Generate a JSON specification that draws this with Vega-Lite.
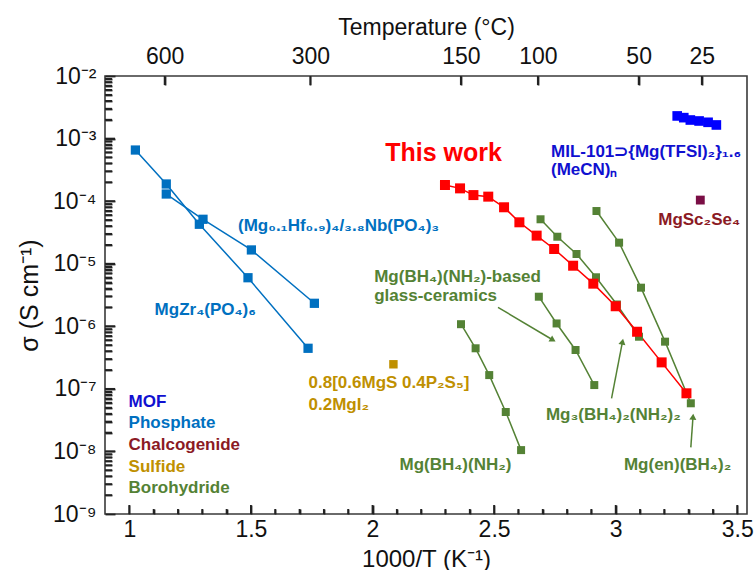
{
  "$schema": "https://vega.github.io/schema/vega-lite/v6.json",
  "width": 642,
  "height": 438,
  "autosize": "none",
  "padding": {"left": 105, "top": 76, "right": 8, "bottom": 56},
  "background": "white",
  "config": {
    "view": {"stroke": "#3a3a3a", "strokeWidth": 1.6},
    "font": "Liberation Sans",
    "axis": {"grid": false, "domain": false, "tickColor": "#222222", "tickWidth": 1.8, "labelColor": "#111", "titleColor": "#111", "labelFont": "Liberation Sans", "titleFont": "Liberation Sans", "labelFontSize": 23, "titleFontSize": 23, "titleFontWeight": "normal"}
  },
  "datasets": {
    "pts": [
      {"s": "Hf", "cls": "Phosphate", "x": 1.152, "y": 1.30e-4},
      {"s": "Hf", "cls": "Phosphate", "x": 1.303, "y": 5.13e-5},
      {"s": "Hf", "cls": "Phosphate", "x": 1.502, "y": 1.66e-5},
      {"s": "Hf", "cls": "Phosphate", "x": 1.761, "y": 2.33e-6},
      {"s": "Zr", "cls": "Phosphate", "x": 1.025, "y": 6.56e-4},
      {"s": "Zr", "cls": "Phosphate", "x": 1.152, "y": 1.88e-4},
      {"s": "Zr", "cls": "Phosphate", "x": 1.288, "y": 4.27e-5},
      {"s": "Zr", "cls": "Phosphate", "x": 1.488, "y": 5.97e-6},
      {"s": "Zr", "cls": "Phosphate", "x": 1.735, "y": 4.45e-7},
      {"s": "MOF", "cls": "MOF", "x": 3.253, "y": 2.30e-3},
      {"s": "MOF", "cls": "MOF", "x": 3.280, "y": 2.16e-3},
      {"s": "MOF", "cls": "MOF", "x": 3.307, "y": 1.98e-3},
      {"s": "MOF", "cls": "MOF", "x": 3.343, "y": 1.91e-3},
      {"s": "MOF", "cls": "MOF", "x": 3.380, "y": 1.82e-3},
      {"s": "MOF", "cls": "MOF", "x": 3.414, "y": 1.65e-3},
      {"s": "Se", "cls": "Chalcogenide", "x": 3.348, "y": 1.04e-4},
      {"s": "S", "cls": "Sulfide", "x": 2.086, "y": 2.47e-7},
      {"s": "G4", "cls": "Borohydride", "x": 2.364, "y": 1.08e-6},
      {"s": "G4", "cls": "Borohydride", "x": 2.424, "y": 4.45e-7},
      {"s": "G4", "cls": "Borohydride", "x": 2.480, "y": 1.66e-7},
      {"s": "G4", "cls": "Borohydride", "x": 2.548, "y": 4.27e-8},
      {"s": "G4", "cls": "Borohydride", "x": 2.611, "y": 1.05e-8},
      {"s": "G3", "cls": "Borohydride", "x": 2.684, "y": 2.97e-6},
      {"s": "G3", "cls": "Borohydride", "x": 2.757, "y": 1.11e-6},
      {"s": "G3", "cls": "Borohydride", "x": 2.835, "y": 4.18e-7},
      {"s": "G3", "cls": "Borohydride", "x": 2.912, "y": 1.15e-7},
      {"s": "G1", "cls": "Borohydride", "x": 2.691, "y": 5.13e-5},
      {"s": "G1", "cls": "Borohydride", "x": 2.760, "y": 2.70e-5},
      {"s": "G1", "cls": "Borohydride", "x": 2.839, "y": 1.43e-5},
      {"s": "G1", "cls": "Borohydride", "x": 2.919, "y": 6.07e-6},
      {"s": "G1", "cls": "Borohydride", "x": 3.005, "y": 2.23e-6},
      {"s": "G1", "cls": "Borohydride", "x": 3.096, "y": 6.81e-7},
      {"s": "G2", "cls": "Borohydride", "x": 2.921, "y": 6.95e-5},
      {"s": "G2", "cls": "Borohydride", "x": 3.014, "y": 2.17e-5},
      {"s": "G2", "cls": "Borohydride", "x": 3.104, "y": 4.14e-6},
      {"s": "G2", "cls": "Borohydride", "x": 3.203, "y": 5.68e-7},
      {"s": "G2", "cls": "Borohydride", "x": 3.309, "y": 5.88e-8},
      {"s": "R", "cls": "This work", "x": 2.298, "y": 1.81e-4},
      {"s": "R", "cls": "This work", "x": 2.360, "y": 1.60e-4},
      {"s": "R", "cls": "This work", "x": 2.415, "y": 1.25e-4},
      {"s": "R", "cls": "This work", "x": 2.476, "y": 1.18e-4},
      {"s": "R", "cls": "This work", "x": 2.541, "y": 7.98e-5},
      {"s": "R", "cls": "This work", "x": 2.604, "y": 4.59e-5},
      {"s": "R", "cls": "This work", "x": 2.675, "y": 2.81e-5},
      {"s": "R", "cls": "This work", "x": 2.747, "y": 1.72e-5},
      {"s": "R", "cls": "This work", "x": 2.825, "y": 9.29e-6},
      {"s": "R", "cls": "This work", "x": 2.908, "y": 4.80e-6},
      {"s": "R", "cls": "This work", "x": 3.000, "y": 2.09e-6},
      {"s": "R", "cls": "This work", "x": 3.088, "y": 8.18e-7},
      {"s": "R", "cls": "This work", "x": 3.189, "y": 2.65e-7},
      {"s": "R", "cls": "This work", "x": 3.291, "y": 8.49e-8}
    ],
    "labels": [
      {"t": "This work", "cls": "This work", "x": 2.052, "y": 4.38e-4},
      {"t": "MIL-101⊃{Mg(TFSI)₂}₁.₆", "cls": "MOF", "x": 2.734, "y": 5.07e-4},
      {"t": "(MeCN)ₙ", "cls": "MOF", "x": 2.734, "y": 2.62e-4},
      {"t": "(Mg₀.₁Hf₀.₉)₄/₃.₈Nb(PO₄)₃", "cls": "Phosphate", "x": 1.447, "y": 3.33e-5},
      {"t": "MgZr₄(PO₄)₆", "cls": "Phosphate", "x": 1.104, "y": 1.51e-6},
      {"t": "MgSc₂Se₄", "cls": "Chalcogenide", "x": 3.175, "y": 4.16e-5},
      {"t": "Mg(BH₄)(NH₂)-based", "cls": "Borohydride", "x": 2.007, "y": 5.10e-6},
      {"t": "glass-ceramics", "cls": "Borohydride", "x": 2.007, "y": 2.54e-6},
      {"t": "0.8[0.6MgS 0.4P₂S₅]", "cls": "Sulfide", "x": 1.737, "y": 1.03e-7},
      {"t": "0.2MgI₂", "cls": "Sulfide", "x": 1.737, "y": 4.59e-8},
      {"t": "Mg₃(BH₄)₂(NH₂)₂", "cls": "Borohydride", "x": 2.713, "y": 3.18e-8},
      {"t": "Mg(BH₄)(NH₂)", "cls": "Borohydride", "x": 2.111, "y": 5.05e-9},
      {"t": "Mg(en)(BH₄)₂", "cls": "Borohydride", "x": 3.034, "y": 5.05e-9},
      {"t": "MOF", "cls": "MOF", "x": 0.997, "y": 5.13e-8},
      {"t": "Phosphate", "cls": "Phosphate", "x": 0.997, "y": 2.37e-8},
      {"t": "Chalcogenide", "cls": "Chalcogenide", "x": 0.997, "y": 1.06e-8},
      {"t": "Sulfide", "cls": "Sulfide", "x": 0.997, "y": 4.74e-9},
      {"t": "Borohydride", "cls": "Borohydride", "x": 0.997, "y": 2.14e-9}
    ],
    "arrows": [
      {"a": 1, "pos": "start", "x": 2.516, "y": 2.01e-6},
      {"a": 1, "pos": "end", "x": 2.742, "y": 6.04e-7},
      {"a": 2, "pos": "start", "x": 2.983, "y": 7.06e-8},
      {"a": 2, "pos": "end", "x": 3.028, "y": 5.68e-7},
      {"a": 3, "pos": "start", "x": 3.309, "y": 1.16e-8},
      {"a": 3, "pos": "end", "x": 3.318, "y": 3.59e-8}
    ],
    "xmaj": [{"v": 1}, {"v": 1.5}, {"v": 2}, {"v": 2.5}, {"v": 3}, {"v": 3.5}],
    "xmin": [{"v": 1.1}, {"v": 1.2}, {"v": 1.3}, {"v": 1.4}, {"v": 1.6}, {"v": 1.7}, {"v": 1.8}, {"v": 1.9}, {"v": 2.1}, {"v": 2.2}, {"v": 2.3}, {"v": 2.4}, {"v": 2.6}, {"v": 2.7}, {"v": 2.8}, {"v": 2.9}, {"v": 3.1}, {"v": 3.2}, {"v": 3.3}, {"v": 3.4}],
    "xtop": [{"v": 1.145278}, {"v": 1.744744}, {"v": 2.363228}, {"v": 2.679887}, {"v": 3.094538}, {"v": 3.354016}],
    "ymaj": [{"v": 1e-8}, {"v": 1e-7}, {"v": 1e-6}, {"v": 1e-5}, {"v": 1e-4}, {"v": 1e-3}],
    "ymin": [{"v": 2e-9},{"v": 3e-9},{"v": 4e-9},{"v": 5e-9},{"v": 6e-9},{"v": 7e-9},{"v": 8e-9},{"v": 9e-9},{"v": 2e-8},{"v": 3e-8},{"v": 4e-8},{"v": 5e-8},{"v": 6e-8},{"v": 7e-8},{"v": 8e-8},{"v": 9e-8},{"v": 2e-7},{"v": 3e-7},{"v": 4e-7},{"v": 5e-7},{"v": 6e-7},{"v": 7e-7},{"v": 8e-7},{"v": 9e-7},{"v": 2e-6},{"v": 3e-6},{"v": 4e-6},{"v": 5e-6},{"v": 6e-6},{"v": 7e-6},{"v": 8e-6},{"v": 9e-6},{"v": 2e-5},{"v": 3e-5},{"v": 4e-5},{"v": 5e-5},{"v": 6e-5},{"v": 7e-5},{"v": 8e-5},{"v": 9e-5},{"v": 2e-4},{"v": 3e-4},{"v": 4e-4},{"v": 5e-4},{"v": 6e-4},{"v": 7e-4},{"v": 8e-4},{"v": 9e-4},{"v": 2e-3},{"v": 3e-3},{"v": 4e-3},{"v": 5e-3},{"v": 6e-3},{"v": 7e-3},{"v": 8e-3},{"v": 9e-3}]
  },
  "resolve": {"axis": {"x": "independent", "y": "independent"}, "scale": {"color": "independent", "size": "independent"}},
  "layer": [
    {
      "data": {"name": "pts"},
      "mark": {"type": "line", "strokeWidth": 1.5},
      "encoding": {
        "x": {"field": "x", "type": "quantitative", "scale": {"domain": [0.9, 3.54], "nice": false, "zero": false},
          "axis": {"orient": "bottom", "values": [1, 1.5, 2, 2.5, 3, 3.5], "format": "~g", "offset": -9, "tickSize": 9, "labelPadding": 4, "title": "1000/T (K⁻¹)", "titlePadding": 6, "titleFontSize": 24}},
        "y": {"field": "y", "type": "quantitative", "scale": {"type": "log", "domain": [1e-9, 1e-2], "nice": false},
          "axis": {"orient": "left", "values": [1e-9, 1e-8, 1e-7, 1e-6, 1e-5, 1e-4, 1e-3, 1e-2], "offset": -10, "tickSize": 10, "labelPadding": 9,
            "labelExpr": "'10⁻' + ['⁰','¹','²','³','⁴','⁵','⁶','⁷','⁸','⁹'][-round(log(datum.value)/LN10)]",
            "title": "σ (S cm⁻¹)", "titleFontSize": 25, "titleX": -73}},
        "color": {"field": "cls", "type": "nominal", "legend": null,
          "scale": {"domain": ["This work", "MOF", "Phosphate", "Chalcogenide", "Sulfide", "Borohydride"], "range": ["#FF0000", "#0000FF", "#0070C0", "#7A0E45", "#BF9000", "#548235"]}},
        "detail": {"field": "s"}
      }
    },
    {
      "mark": {"type": "rule", "strokeDash": [4, 3], "color": "#555555", "strokeWidth": 1.3},
      "encoding": {
        "y": {"datum": 0.0001, "type": "quantitative", "axis": null}
      }
    },
    {
      "data": {"name": "xmaj"},
      "mark": {"type": "point", "shape": "M0,0L0,-1", "filled": false, "opacity": 1, "stroke": "#222222", "strokeWidth": 1.8, "size": 324},
      "encoding": {
        "x": {"field": "v", "type": "quantitative", "axis": null},
        "y": {"datum": 1e-9, "type": "quantitative", "axis": null}
      }
    },
    {
      "data": {"name": "xmin"},
      "mark": {"type": "point", "shape": "M0,0L0,-1", "filled": false, "opacity": 1, "stroke": "#222222", "strokeWidth": 1.8, "size": 100},
      "encoding": {
        "x": {"field": "v", "type": "quantitative", "axis": {"orient": "bottom", "labels": false, "title": null, "offset": -5, "tickSize": 5, "values": [1.1,1.2,1.3,1.4,1.6,1.7,1.8,1.9,2.1,2.2,2.3,2.4,2.6,2.7,2.8,2.9,3.1,3.2,3.3,3.4]}},
        "y": {"datum": 1e-9, "type": "quantitative", "axis": null}
      }
    },
    {
      "data": {"name": "xtop"},
      "mark": {"type": "point", "shape": "M0,0L0,1", "filled": false, "opacity": 1, "stroke": "#222222", "strokeWidth": 1.8, "size": 324},
      "encoding": {
        "x": {"field": "v", "type": "quantitative", "axis": null},
        "y": {"datum": 1e-2, "type": "quantitative", "axis": null}
      }
    },
    {
      "data": {"name": "ymaj"},
      "mark": {"type": "point", "shape": "M0,0L1,0", "filled": false, "opacity": 1, "stroke": "#222222", "strokeWidth": 1.8, "size": 400},
      "encoding": {
        "y": {"field": "v", "type": "quantitative", "axis": null},
        "x": {"datum": 0.9, "type": "quantitative", "axis": null}
      }
    },
    {
      "data": {"name": "ymin"},
      "mark": {"type": "point", "shape": "M0,0L1,0", "filled": false, "opacity": 1, "stroke": "#222222", "strokeWidth": 1.8, "size": 196},
      "encoding": {
        "y": {"field": "v", "type": "quantitative", "axis": {"orient": "left", "labels": false, "title": null, "offset": -7, "tickSize": 7, "values": [2e-9,3e-9,4e-9,5e-9,6e-9,7e-9,8e-9,9e-9,2e-8,3e-8,4e-8,5e-8,6e-8,7e-8,8e-8,9e-8,2e-7,3e-7,4e-7,5e-7,6e-7,7e-7,8e-7,9e-7,2e-6,3e-6,4e-6,5e-6,6e-6,7e-6,8e-6,9e-6,2e-5,3e-5,4e-5,5e-5,6e-5,7e-5,8e-5,9e-5,2e-4,3e-4,4e-4,5e-4,6e-4,7e-4,8e-4,9e-4,2e-3,3e-3,4e-3,5e-3,6e-3,7e-3,8e-3,9e-3]}},
        "x": {"datum": 0.9, "type": "quantitative", "axis": null}
      }
    },
    {
      "data": {"name": "pts"},
      "mark": {"type": "point", "shape": "square", "filled": true, "opacity": 1},
      "encoding": {
        "x": {"field": "x", "type": "quantitative",
          "axis": {"orient": "top", "values": [1.145278, 1.744744, 2.363228, 2.679887, 3.094538, 3.354016], "labelExpr": "'' + round(1000/datum.value - 273.15)", "offset": -9, "tickSize": 9, "labelPadding": 8, "title": "Temperature (°C)", "titlePadding": 6, "titleFontSize": 23}},
        "y": {"field": "y", "type": "quantitative", "axis": null},
        "color": {"field": "cls", "type": "nominal", "legend": null,
          "scale": {"domain": ["This work", "MOF", "Phosphate", "Chalcogenide", "Sulfide", "Borohydride"], "range": ["#FF0000", "#0000FF", "#0070C0", "#7A0E45", "#BF9000", "#548235"]}},
        "size": {"field": "cls", "type": "nominal", "legend": null,
          "scale": {"domain": ["This work", "MOF", "Phosphate", "Chalcogenide", "Sulfide", "Borohydride"], "range": [100, 64, 121, 64, 81, 121]}}
      }
    },
    {
      "data": {"name": "labels"},
      "transform": [{"filter": "datum.cls != 'This work'"}],
      "mark": {"type": "text", "align": "left", "baseline": "alphabetic", "fontSize": 17, "fontWeight": "bold", "font": "Liberation Sans"},
      "encoding": {
        "x": {"field": "x", "type": "quantitative", "axis": null},
        "y": {"field": "y", "type": "quantitative", "axis": null},
        "text": {"field": "t"},
        "color": {"field": "cls", "type": "nominal", "legend": null,
          "scale": {"domain": ["MOF", "Phosphate", "Chalcogenide", "Sulfide", "Borohydride"], "range": ["#1010D0", "#0070C0", "#8B1A24", "#BF9000", "#548235"]}}
      }
    },
    {
      "data": {"name": "labels"},
      "transform": [{"filter": "datum.cls == 'This work'"}],
      "mark": {"type": "text", "align": "left", "baseline": "alphabetic", "fontSize": 25, "fontWeight": "bold", "font": "Liberation Sans", "color": "#FF0000"},
      "encoding": {
        "x": {"field": "x", "type": "quantitative", "axis": null},
        "y": {"field": "y", "type": "quantitative", "axis": null},
        "text": {"field": "t"}
      }
    },
    {
      "data": {"name": "arrows"},
      "mark": {"type": "line", "color": "#548235", "strokeWidth": 1.5},
      "encoding": {
        "x": {"field": "x", "type": "quantitative", "axis": null},
        "y": {"field": "y", "type": "quantitative", "axis": null},
        "detail": {"field": "a"},
        "order": {"field": "pos", "sort": "descending"}
      }
    },
    {
      "data": {"name": "arrows"},
      "transform": [{"filter": "datum.a == 1 && datum.pos == 'end'"}],
      "mark": {"type": "point", "shape": "triangle-up", "filled": true, "opacity": 1, "color": "#548235", "size": 50, "angle": 121},
      "encoding": {
        "x": {"field": "x", "type": "quantitative", "axis": null},
        "y": {"field": "y", "type": "quantitative", "axis": null}
      }
    },
    {
      "data": {"name": "arrows"},
      "transform": [{"filter": "datum.a == 2 && datum.pos == 'end'"}],
      "mark": {"type": "point", "shape": "triangle-up", "filled": true, "opacity": 1, "color": "#548235", "size": 50, "angle": 11},
      "encoding": {
        "x": {"field": "x", "type": "quantitative", "axis": null},
        "y": {"field": "y", "type": "quantitative", "axis": null}
      }
    },
    {
      "data": {"name": "arrows"},
      "transform": [{"filter": "datum.a == 3 && datum.pos == 'end'"}],
      "mark": {"type": "point", "shape": "triangle-up", "filled": true, "opacity": 1, "color": "#548235", "size": 50, "angle": 4},
      "encoding": {
        "x": {"field": "x", "type": "quantitative", "axis": null},
        "y": {"field": "y", "type": "quantitative", "axis": null}
      }
    }
  ]
}
